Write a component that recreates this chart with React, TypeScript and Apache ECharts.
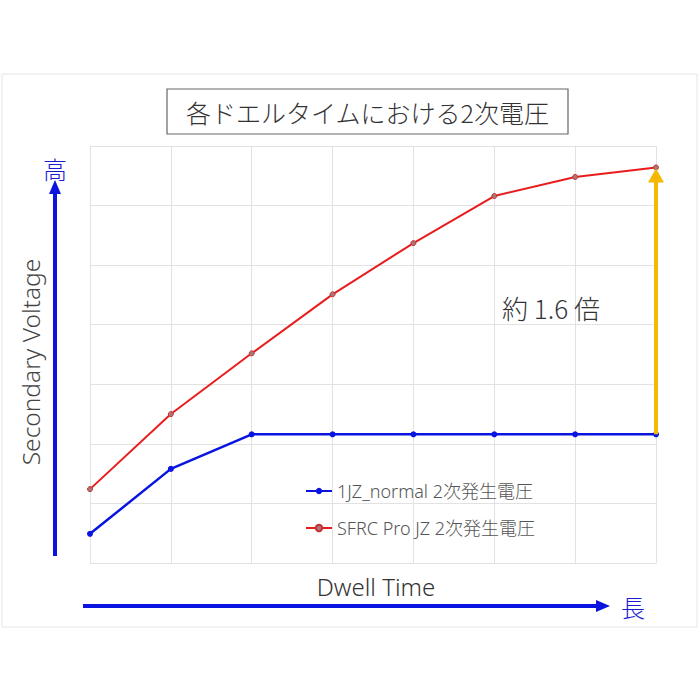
import React, { useEffect, useRef } from "react";
import * as echarts from "echarts";

const categories = ["1", "2", "3", "4", "5", "6", "7", "8"];
const normalValues = [0.49, 1.58, 2.16, 2.16, 2.16, 2.16, 2.16, 2.16];
const sfrcValues = [1.24, 2.5, 3.52, 4.51, 5.37, 6.16, 6.48, 6.64];
const seriesNames = ["1JZ_normal 2次発生電圧", "SFRC Pro JZ 2次発生電圧"];
const titleText = "各ドエルタイムにおける2次電圧";
const ratioText = "約 1.6 倍";

const FONT = "'Noto Sans CJK JP', 'Noto Sans', sans-serif";
const LFONT = "'Noto Sans', 'Noto Sans CJK JP', sans-serif";

export default function App() {
  const ref = useRef<HTMLDivElement>(null);
  useEffect(() => {
    document.body.style.margin = "0";
    const chart = echarts.init(ref.current!, null, { renderer: "svg" });
    const option: any = {
      animation: false,
      backgroundColor: "#ffffff",
      textStyle: { fontFamily: FONT },
      grid: { left: 90, right: 44, top: 146, bottom: 137 },
      legend: {
        orient: "vertical",
        left: 300,
        top: 477,
        itemGap: 19,
        itemWidth: 26,
        itemHeight: 8,
        textStyle: { fontSize: 18, color: "#555", fontFamily: LFONT, fontWeight: 300 },
        data: seriesNames,
      },
      xAxis: {
        type: "category",
        data: categories,
        boundaryGap: false,
        axisLabel: { show: false },
        axisTick: { show: false },
        axisLine: { show: true, lineStyle: { color: "#e2e2e2" } },
        splitLine: { show: true, lineStyle: { color: "#e2e2e2" } },
      },
      yAxis: {
        type: "value",
        min: 0,
        max: 7,
        interval: 1,
        axisLabel: { show: false },
        axisTick: { show: false },
        axisLine: { show: true, lineStyle: { color: "#e2e2e2" } },
        splitLine: { show: true, lineStyle: { color: "#e2e2e2" } },
      },
      series: [
        {
          name: seriesNames[0],
          type: "line",
          data: normalValues,
          symbol: "circle",
          symbolSize: 6,
          lineStyle: { color: "#0a14e0", width: 2.5 },
          itemStyle: { color: "#0a14e0" },
        },
        {
          name: seriesNames[1],
          type: "line",
          data: sfrcValues,
          symbol: "circle",
          symbolSize: 5,
          lineStyle: { color: "#e81c1c", width: 2 },
          itemStyle: { color: "#a87878", borderColor: "#c83030", borderWidth: 1 },
          z: 3,
        },
      ],
    };
    chart.setOption(option);

    const last = categories.length - 1;
    const pTop = chart.convertToPixel({ seriesIndex: 1 }, [last, sfrcValues[last]]) as number[];
    const pBot = chart.convertToPixel({ seriesIndex: 0 }, [last, normalValues[last]]) as number[];
    const ax = pTop[0];

    chart.setOption({
      graphic: [
        {
          type: "rect",
          shape: { x: 2, y: 74, width: 695, height: 553 },
          style: { fill: "none", stroke: "#e6e6e6", lineWidth: 1 },
          silent: true,
        },
        {
          type: "rect",
          shape: { x: 167, y: 89, width: 401, height: 45 },
          style: { fill: "#fff", stroke: "#666", lineWidth: 1.2 },
        },
        {
          type: "text",
          x: 367.5,
          y: 112,
          style: {
            text: titleText,
            fontSize: 25,
            fontWeight: 300,
            fill: "#333",
            fontFamily: FONT,
            align: "center",
            verticalAlign: "middle",
          },
        },
        {
          type: "text",
          x: 30,
          y: 362,
          rotation: Math.PI / 2,
          style: {
            text: "Secondary Voltage",
            fontSize: 24.5,
            fontWeight: 300,
            fill: "#444",
            fontFamily: LFONT,
            align: "center",
            verticalAlign: "middle",
          },
        },
        {
          type: "text",
          x: 376,
          y: 586,
          style: {
            text: "Dwell Time",
            fontSize: 24,
            fontWeight: 300,
            fill: "#333",
            fontFamily: LFONT,
            align: "center",
            verticalAlign: "middle",
          },
        },
        // vertical blue arrow
        {
          type: "line",
          shape: { x1: 55, y1: 556, x2: 55, y2: 192 },
          style: { stroke: "#0a14e0", lineWidth: 4 },
        },
        {
          type: "polygon",
          shape: { points: [[49, 194], [61, 194], [55, 180]] },
          style: { fill: "#0a14e0" },
        },
        {
          type: "text",
          x: 55,
          y: 168,
          style: {
            text: "高",
            fontSize: 24,
            fontWeight: 300,
            fill: "#1a1ad0",
            fontFamily: FONT,
            align: "center",
            verticalAlign: "middle",
          },
        },
        // horizontal blue arrow
        {
          type: "line",
          shape: { x1: 83, y1: 606, x2: 598, y2: 606 },
          style: { stroke: "#0a14e0", lineWidth: 4 },
        },
        {
          type: "polygon",
          shape: { points: [[596, 600], [596, 612], [610, 606]] },
          style: { fill: "#0a14e0" },
        },
        {
          type: "text",
          x: 633,
          y: 606,
          style: {
            text: "長",
            fontSize: 24,
            fontWeight: 300,
            fill: "#1a1ad0",
            fontFamily: FONT,
            align: "center",
            verticalAlign: "middle",
          },
        },
        // yellow arrow
        {
          type: "line",
          shape: { x1: ax, y1: pBot[1], x2: ax, y2: pTop[1] + 14 },
          style: { stroke: "#f5b800", lineWidth: 4 },
          z: 10,
        },
        {
          type: "polygon",
          shape: {
            points: [
              [ax - 8, pTop[1] + 15],
              [ax + 8, pTop[1] + 15],
              [ax, pTop[1] + 1],
            ],
          },
          style: { fill: "#f5b800" },
          z: 10,
        },
        {
          type: "text",
          x: 551,
          y: 307,
          style: {
            text: ratioText,
            fontSize: 26,
            fontWeight: 300,
            fill: "#333",
            fontFamily: FONT,
            align: "center",
            verticalAlign: "middle",
          },
        },
      ],
    });

    return () => chart.dispose();
  }, []);
  return (
    <div
      ref={ref}
      style={{ position: "absolute", left: 0, top: 0, width: 700, height: 700 }}
    />
  );
}
